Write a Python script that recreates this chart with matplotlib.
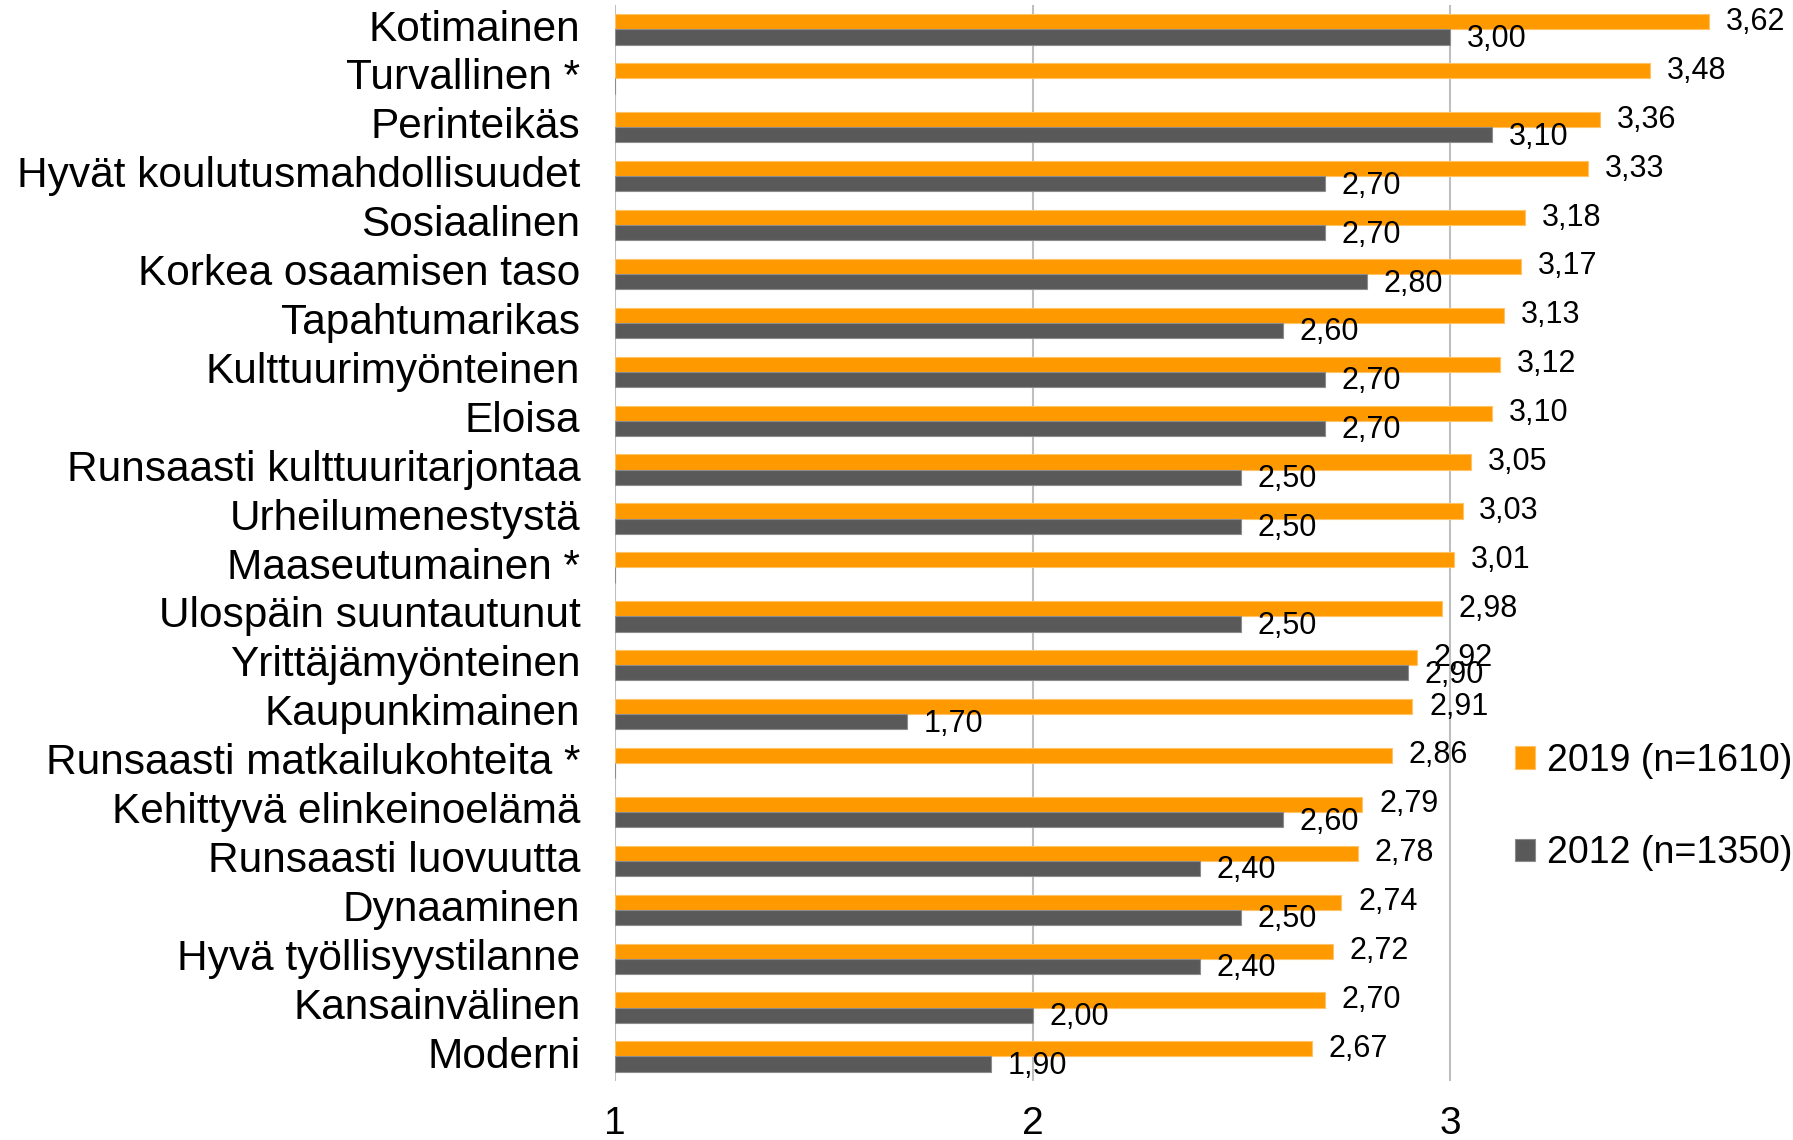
import matplotlib.pyplot as plt
import numpy as np

plt.rcParams['font.family'] = ['Liberation Sans', 'DejaVu Sans']

categories = ['Kotimainen', 'Turvallinen *', 'Perinteikäs', 'Hyvät koulutusmahdollisuudet',
              'Sosiaalinen', 'Korkea osaamisen taso', 'Tapahtumarikas', 'Kulttuurimyönteinen',
              'Eloisa', 'Runsaasti kulttuuritarjontaa', 'Urheilumenestystä', 'Maaseutumainen *',
              'Ulospäin suuntautunut', 'Yrittäjämyönteinen', 'Kaupunkimainen',
              'Runsaasti matkailukohteita *', 'Kehittyvä elinkeinoelämä', 'Runsaasti luovuutta',
              'Dynaaminen', 'Hyvä työllisyystilanne', 'Kansainvälinen', 'Moderni']
vals_2019 = [3.62, 3.48, 3.36, 3.33, 3.18, 3.17, 3.13, 3.12, 3.10, 3.05, 3.03, 3.01,
             2.98, 2.92, 2.91, 2.86, 2.79, 2.78, 2.74, 2.72, 2.70, 2.67]
vals_2012 = [3.00, None, 3.10, 2.70, 2.70, 2.80, 2.60, 2.70, 2.70, 2.50, 2.50, None,
             2.50, 2.90, 1.70, None, 2.60, 2.40, 2.50, 2.40, 2.00, 1.90]
label_2019 = '2019 (n=1610)'
label_2012 = '2012 (n=1350)'

ORANGE = '#FF9900'
GRAY = '#595959'
BASE = 1.0

fig = plt.figure(figsize=(17.93, 11.40), dpi=100)
ax = fig.add_axes([0.343, 0.0518, 0.652, 0.9438])

y = np.arange(len(categories))
h = 0.31

w19 = [v - BASE for v in vals_2019]
w12 = [(v - BASE) if v is not None else 0 for v in vals_2012]

b19 = ax.barh(y - h / 2, w19, height=h, left=BASE, color=ORANGE,
              edgecolor='#FFC266', linewidth=0.8, label=label_2019, zorder=2)
b12 = ax.barh(y + h / 2, w12, height=h, left=BASE, color=GRAY,
              edgecolor='#8C8C8C', linewidth=0.8, label=label_2012, zorder=2)

for i, v in enumerate(vals_2019):
    ax.annotate(f'{v:.2f}'.replace('.', ','), (v, y[i] - h / 2), xytext=(12, 0),
                textcoords='offset points', va='center', ha='left', fontsize=22)
for i, v in enumerate(vals_2012):
    if v is None:
        continue
    ax.annotate(f'{v:.2f}'.replace('.', ','), (v, y[i] + h / 2 + 0.04), xytext=(12, 0),
                textcoords='offset points', va='center', ha='left', fontsize=22)

ax.set_xlim(1, 3.8)
ax.set_ylim(len(categories) - 0.5, -0.5)
ax.set_xticks([1, 2, 3])
ax.set_xticklabels(['1', '2', '3'], fontsize=28)
# category labels sit a little above the bar pair in the original
ax.set_yticks(y - 0.09)
ax.set_yticklabels(categories, fontsize=30.5)
ax.tick_params(axis='both', length=0)
ax.tick_params(axis='y', pad=25)
ax.tick_params(axis='x', pad=18)
ax.xaxis.grid(True, color='#BFBFBF', linewidth=1.5, zorder=0)
ax.set_axisbelow(True)
for s in ax.spines.values():
    s.set_visible(False)

leg = fig.legend(handles=[b19, b12], loc='center left', bbox_to_anchor=(0.826, 0.292),
                 frameon=False, fontsize=27, handlelength=0.55, handleheight=0.55,
                 handletextpad=0.3, labelspacing=1.5)

fig.savefig('out.png', dpi=100)
